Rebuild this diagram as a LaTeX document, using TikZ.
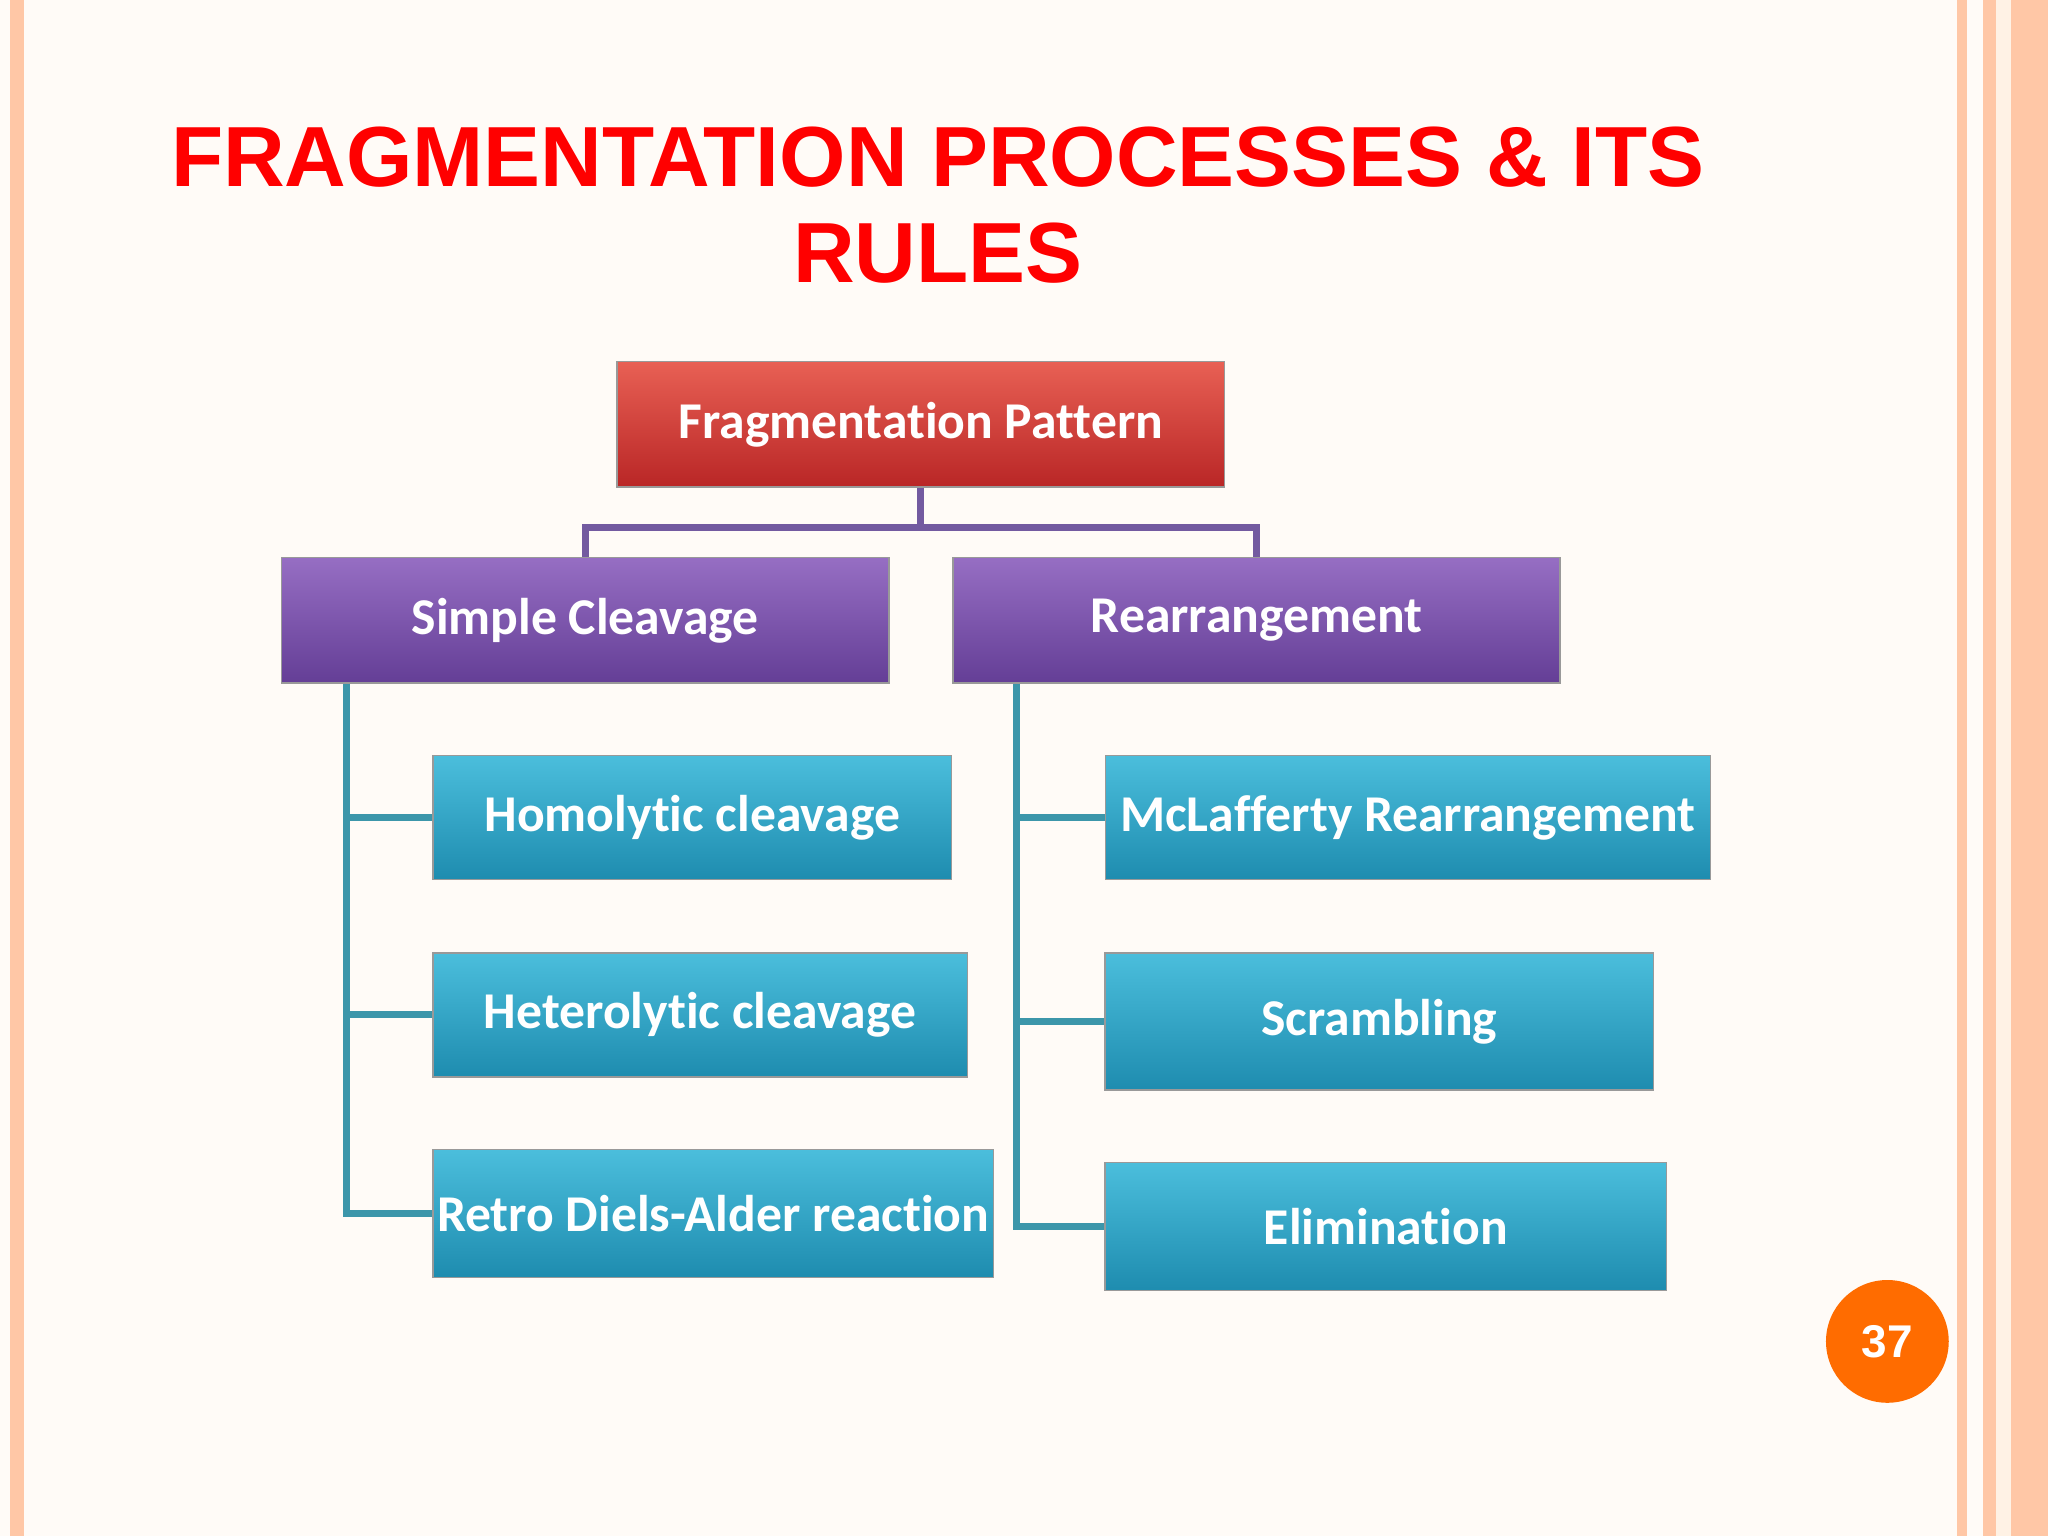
\documentclass[tikz,border=0pt]{standalone}
\usepackage{fontspec}
\setmainfont{Liberation Sans}
\newfontfamily\boxfont[Ligatures=NoCommon]{Carlito}
\definecolor{redtop}{RGB}{232,96,84}
\definecolor{redbot}{RGB}{185,38,38}
\definecolor{purtop}{RGB}{150,110,195}
\definecolor{purbot}{RGB}{100,62,150}
\definecolor{teatop}{RGB}{75,190,220}
\definecolor{teabot}{RGB}{30,140,175}
\definecolor{pline}{RGB}{115,90,160}
\definecolor{tline}{RGB}{60,150,170}
\begin{document}
\begin{tikzpicture}[x=0.02cm,y=-0.02cm,
  boxbase/.style={draw=black!40, line width=0.6pt, text=white, font=\boxfont\bfseries\fontsize{22.5}{26}\selectfont, inner sep=0pt},
  redbox/.style={boxbase, top color=redtop, bottom color=redbot},
  purplebox/.style={boxbase, top color=purtop, bottom color=purbot},
  tealbox/.style={boxbase, top color=teatop, bottom color=teabot},
  plink/.style={draw=pline, line width=3pt},
  tlink/.style={draw=tline, line width=3pt}]
\fill[white!97!orange] (0,0) rectangle (1568,1176);
\useasboundingbox (0,0) rectangle (1568,1176);
\fill[red!25!orange!35] (8,0) rectangle (18,1176);
\fill[red!25!orange!35] (1498,0) rectangle (1506,1176);
\fill[red!25!orange!35] (1518,0) rectangle (1568,1176);
\fill[white!90!orange] (1528,0) rectangle (1540,1176);
\node[text=red, font=\bfseries\fontsize{37.2}{42}\selectfont, align=center] (title) at (718,157) {FRAGMENTATION PROCESSES \& ITS\\RULES};
\node[redbox, minimum width=465*0.02cm, minimum height=96*0.02cm] (fp) at (705,325) {Fragmentation Pattern};
\node[purplebox, minimum width=465*0.02cm, minimum height=96*0.02cm] (sc) at (448,475) {Simple Cleavage};
\node[purplebox, minimum width=465*0.02cm, minimum height=96*0.02cm] (re) at (962,475) {Rearrangement};
\node[tealbox, minimum width=397*0.02cm, minimum height=95*0.02cm] (ho) at (530,626) {Homolytic cleavage};
\node[tealbox, minimum width=409*0.02cm, minimum height=95*0.02cm] (he) at (536,777) {Heterolytic cleavage};
\node[tealbox, minimum width=429*0.02cm, minimum height=98*0.02cm] (rd) at (546,929) {Retro Diels-Alder reaction};
\node[tealbox, minimum width=463*0.02cm, minimum height=95*0.02cm] (mc) at (1078,626) {McLafferty Rearrangement};
\node[tealbox, minimum width=420*0.02cm, minimum height=105*0.02cm] (scr) at (1056,782) {Scrambling};
\node[tealbox, minimum width=430*0.02cm, minimum height=98*0.02cm] (el) at (1061,939) {Elimination};
\draw[plink] (fp.south) -- ++(0,30) -| (sc.north);
\draw[plink] (fp.south) -- ++(0,30) -| (re.north);
\draw[tlink] (sc.south west) ++(50,0) coordinate (l0) -- (l0 |- rd.west) -- (rd.west);
\draw[tlink] (l0 |- ho.west) -- (ho.west);
\draw[tlink] (l0 |- he.west) -- (he.west);
\draw[tlink] (re.south west) ++(49,0) coordinate (r0) -- (r0 |- el.west) -- (el.west);
\draw[tlink] (r0 |- mc.west) -- (mc.west);
\draw[tlink] (r0 |- scr.west) -- (scr.west);
\node[circle, fill=orange!85!red, minimum size=94*0.02cm, text=white, font=\bfseries\fontsize{20}{24}\selectfont] (pg) at (1445,1027) {37};
\end{tikzpicture}
\end{document}
